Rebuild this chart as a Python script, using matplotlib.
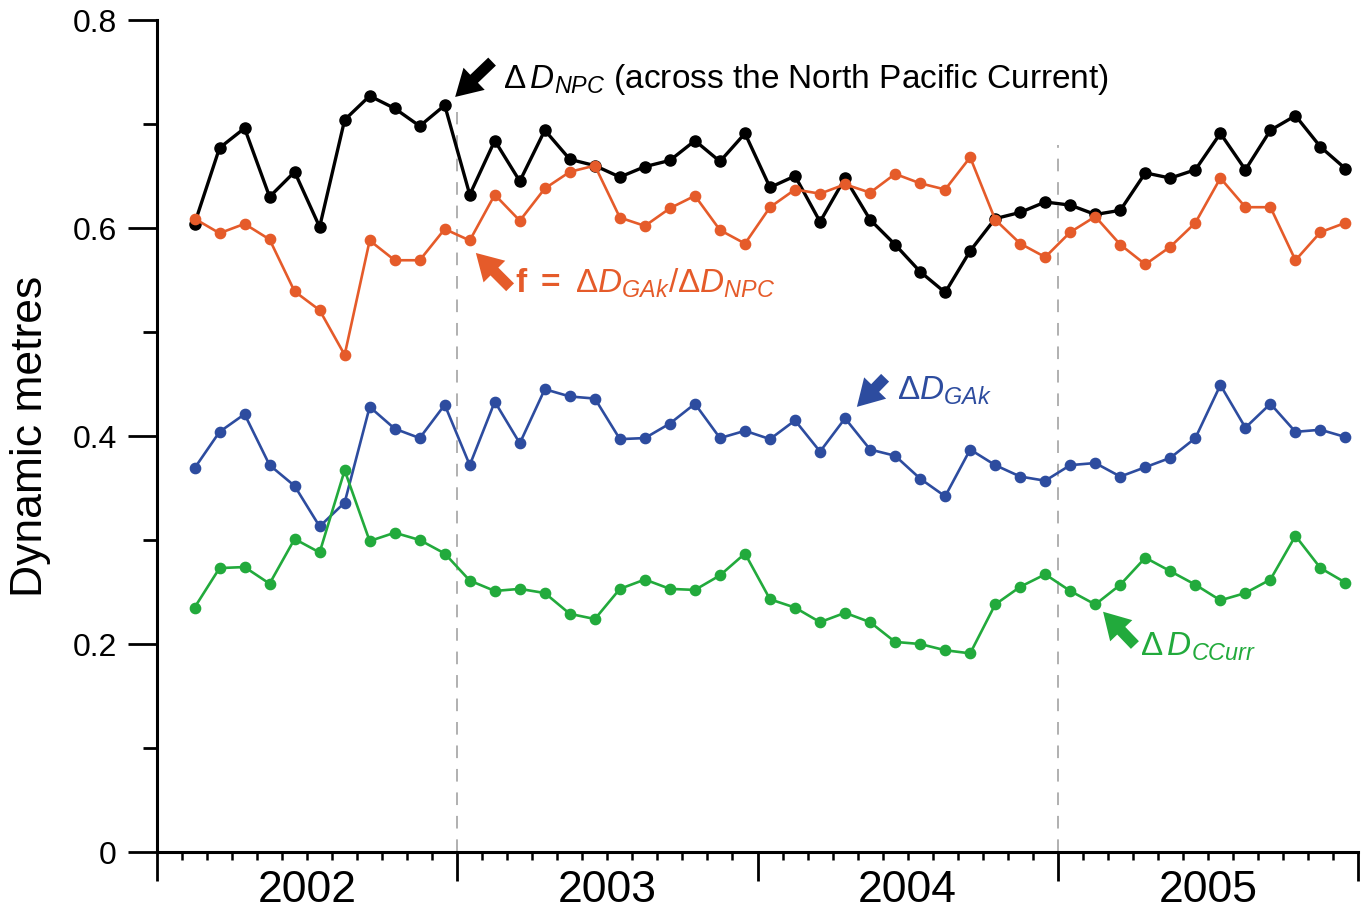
import numpy as np
import matplotlib
matplotlib.use('Agg')
import matplotlib.pyplot as plt
from matplotlib.ticker import MultipleLocator, FixedLocator

plt.rcParams['font.family'] = ['Liberation Sans', 'DejaVu Sans']
plt.rcParams['mathtext.fontset'] = 'custom'
plt.rcParams['mathtext.rm'] = 'Liberation Sans'
plt.rcParams['mathtext.it'] = 'Liberation Sans:italic'
plt.rcParams['mathtext.bf'] = 'Liberation Sans:bold'

# monthly values, Feb 2002 (month 2) .. Dec 2005 (month 48)
months = np.arange(2, 49)
years = [2002, 2003, 2004, 2005]
y_ticks = [0, 0.2, 0.4, 0.6, 0.8]
y_ticklabels = ['0', '0.2', '0.4', '0.6', '0.8']

d_npc = [0.604, 0.677, 0.696, 0.630, 0.654, 0.601, 0.704, 0.727, 0.715, 0.698,
         0.718, 0.632, 0.684, 0.645, 0.694, 0.666, 0.660, 0.649, 0.659, 0.665,
         0.684, 0.664, 0.691, 0.639, 0.650, 0.606, 0.648, 0.608, 0.584, 0.558,
         0.538, 0.578, 0.609, 0.615, 0.625, 0.622, 0.613, 0.617, 0.653, 0.648,
         0.656, 0.691, 0.656, 0.694, 0.708, 0.678, 0.657]
f_ratio = [0.609, 0.595, 0.604, 0.589, 0.539, 0.521, 0.478, 0.588, 0.569, 0.569,
           0.599, 0.588, 0.632, 0.607, 0.638, 0.654, 0.660, 0.610, 0.602, 0.619,
           0.631, 0.598, 0.585, 0.620, 0.637, 0.633, 0.642, 0.634, 0.652, 0.643,
           0.637, 0.668, 0.608, 0.585, 0.572, 0.596, 0.611, 0.584, 0.565, 0.582,
           0.605, 0.648, 0.620, 0.620, 0.569, 0.596, 0.605]
d_gak = [0.369, 0.404, 0.421, 0.372, 0.352, 0.313, 0.336, 0.428, 0.407, 0.398,
         0.430, 0.372, 0.433, 0.393, 0.445, 0.438, 0.436, 0.397, 0.398, 0.412,
         0.431, 0.398, 0.405, 0.397, 0.415, 0.385, 0.417, 0.387, 0.381, 0.359,
         0.342, 0.387, 0.372, 0.361, 0.357, 0.372, 0.374, 0.361, 0.370, 0.379,
         0.398, 0.449, 0.408, 0.431, 0.404, 0.406, 0.399]
d_ccurr = [0.235, 0.273, 0.274, 0.258, 0.301, 0.288, 0.367, 0.299, 0.307, 0.300,
           0.287, 0.261, 0.251, 0.253, 0.249, 0.229, 0.224, 0.253, 0.262, 0.253,
           0.252, 0.266, 0.287, 0.243, 0.235, 0.221, 0.230, 0.221, 0.202, 0.200,
           0.194, 0.191, 0.238, 0.255, 0.267, 0.251, 0.238, 0.257, 0.283, 0.270,
           0.257, 0.242, 0.249, 0.262, 0.304, 0.273, 0.259]

x = 2002 + (months - 0.5) / 12

c_black = '#000000'
c_orange = '#e55b2a'
c_blue = '#2d4c9f'
c_green = '#22aa3c'

fig = plt.figure(figsize=(13.61, 9.10), dpi=100)
ax = fig.add_axes([157 / 1361, 58 / 910, 1201 / 1361, 832 / 910])

# dashed separators
ax.axvline(2003, ymin=0, ymax=0.89, color='#aaaaaa', lw=1.3, dashes=(7, 6), zorder=1)
ax.axvline(2005, ymin=0, ymax=0.85, color='#aaaaaa', lw=1.3, dashes=(7, 6), zorder=1)

ax.plot(x, d_npc, color=c_black, lw=2.4, marker='o', ms=8, zorder=3)
ax.plot(x, f_ratio, color=c_orange, lw=1.9, marker='o', ms=7.4, zorder=4)
ax.plot(x, d_gak, color=c_blue, lw=1.9, marker='o', ms=7.4, zorder=3)
ax.plot(x, d_ccurr, color=c_green, lw=1.9, marker='o', ms=7.4, zorder=4)

ax.set_xlim(2002, 2006)
ax.set_ylim(0, 0.8)

for s in ['top', 'right']:
    ax.spines[s].set_visible(False)
for s in ['left', 'bottom']:
    ax.spines[s].set_linewidth(2.2)

ax.yaxis.set_major_locator(FixedLocator(y_ticks))
ax.yaxis.set_minor_locator(MultipleLocator(0.1))
ax.set_yticklabels(y_ticklabels)
ax.tick_params(axis='y', which='major', direction='out', length=21, width=2.0,
               labelsize=23, pad=8)
ax.tick_params(axis='y', which='minor', direction='out', length=10, width=2.0)

ax.xaxis.set_major_locator(FixedLocator(years + [2006]))
ax.xaxis.set_minor_locator(MultipleLocator(1 / 12))
ax.tick_params(axis='x', which='major', direction='out', length=21, width=2.0,
               labelbottom=False)
ax.tick_params(axis='x', which='minor', direction='out', length=6, width=1.8)

for yr in years:
    ax.text(yr + 0.5, -0.022, str(yr), transform=ax.get_xaxis_transform(),
            ha='center', va='top', fontsize=32)

ax.set_ylabel('Dynamic metres', fontsize=32, va='center')
ax.yaxis.set_label_coords(-0.105, 0.5)

arrow = dict(arrowstyle='simple,head_length=0.9,head_width=1.05,tail_width=0.38',
             mutation_scale=21, shrinkA=0, shrinkB=0, lw=0)

ax.annotate('', xy=(2002.993, 0.726), xytext=(2003.116, 0.760),
            arrowprops=dict(arrow, fc=c_black, ec=c_black))
ax.text(2003.152, 0.735, r'$\Delta\,D_{NPC}$ (across the North Pacific Current)',
        fontsize=24, color=c_black, ha='left', va='baseline')

ax.annotate('', xy=(2003.062, 0.576), xytext=(2003.176, 0.543),
            arrowprops=dict(arrow, fc=c_orange, ec=c_orange))
ax.text(2003.192, 0.5375, r'$\mathbf{f}$ $\mathbf{=}$ $\Delta D_{GAk}/\Delta D_{NPC}$',
        fontsize=24, color=c_orange, ha='left', va='baseline')

ax.annotate('', xy=(2004.331, 0.428), xytext=(2004.425, 0.456),
            arrowprops=dict(arrow, fc=c_blue, ec=c_blue))
ax.text(2004.465, 0.4346, r'$\Delta D_{GAk}$',
        fontsize=24, color=c_blue, ha='left', va='baseline')

ax.annotate('', xy=(2005.151, 0.231), xytext=(2005.257, 0.199),
            arrowprops=dict(arrow, fc=c_green, ec=c_green))
ax.text(2005.274, 0.189, r'$\Delta\,D_{CCurr}$',
        fontsize=24, color=c_green, ha='left', va='baseline')

fig.savefig('out.png', dpi=100)
